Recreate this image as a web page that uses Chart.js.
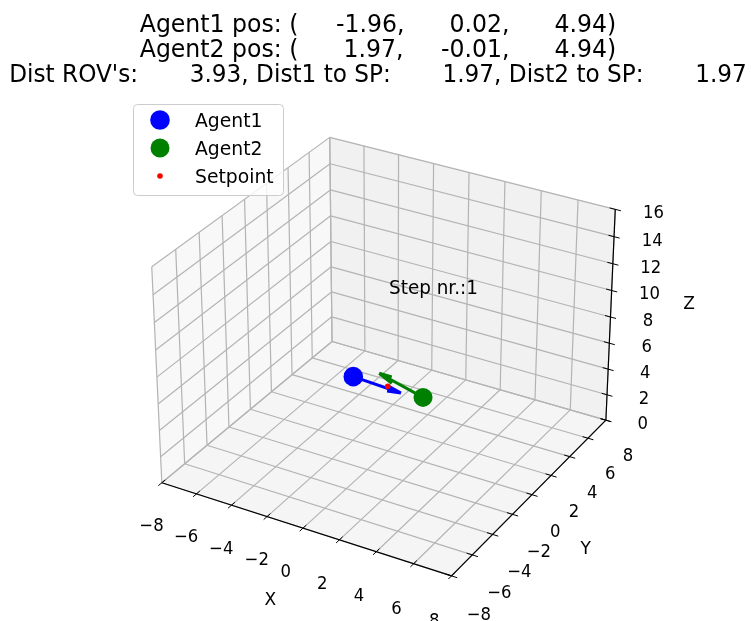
<!DOCTYPE html>
<html>
<head>
<meta charset="utf-8">
<title>Agents step view</title>
<script src="https://cdn.jsdelivr.net/npm/chart.js@4.4.1/dist/chart.umd.min.js"></script>
<style>
  body { margin: 0; background: #fff; }
  canvas { display: block; }
</style>
</head>
<body>
<canvas id="myChart" width="751" height="621"></canvas>
<script>
// state of the two agents at this step
const agent1Pos = [-1.96, 0.02, 4.94];
const agent2Pos = [1.97, -0.01, 4.94];
const setpoint = [0, 0, 5];
const agent1Vel = [2.8, -0.2, 0];
const agent2Vel = [-3.0, 0.95, 0];
const distances = [3.93, 1.97, 1.97]; // between ROVs, agent1 to SP, agent2 to SP
const stepNr = 1;

// axes
const xTicks = [-8, -6, -4, -2, 0, 2, 4, 6, 8];
const yTicks = [-8, -6, -4, -2, 0, 2, 4, 6, 8];
const zTicks = [0, 2, 4, 6, 8, 10, 12, 14, 16];
const xLim = [-8, 8];
const yLim = [-8, 8];
const zLim = [0, 16];

// view like mplot3d defaults: elev 30, azim -60, box 4:4:3, eye at distance 10
const ELEV = 30 * Math.PI / 180;
const AZIM = -60 * Math.PI / 180;
const EYE_DIST = 10;
const box = [4 / 3.5, 4 / 3.5, 3 / 3.5];
const TEXT_STRETCH = 1.08;

const dot = (a, b) => a[0] * b[0] + a[1] * b[1] + a[2] * b[2];
const wv = [Math.cos(ELEV) * Math.cos(AZIM), Math.cos(ELEV) * Math.sin(AZIM), Math.sin(ELEV)];
const uLen = Math.hypot(wv[0], wv[1]);
const uv = [-wv[1] / uLen, wv[0] / uLen, 0];
const vv = [wv[1] * uv[2] - wv[2] * uv[1], wv[2] * uv[0] - wv[0] * uv[2], wv[0] * uv[1] - wv[1] * uv[0]];

function toWorld(p) {
  return [
    (p[0] - xLim[0]) / (xLim[1] - xLim[0]) * box[0] - box[0] / 2,
    (p[1] - yLim[0]) / (yLim[1] - yLim[0]) * box[1] - box[1] / 2,
    (p[2] - zLim[0]) / (zLim[1] - zLim[0]) * box[2] - box[2] / 2
  ];
}

function project(p) {
  if (p === null) return {x: null, y: null};
  const c = toWorld(p);
  const depth = EYE_DIST - dot(wv, c);
  return {x: dot(uv, c) / depth, y: dot(vv, c) / depth};
}

// quiver arrow: shaft plus two head lines tilted 15 deg in the vertical plane
function quiver(tail, vec) {
  const tip = [tail[0] + vec[0], tail[1] + vec[1], tail[2] + vec[2]];
  const n = Math.hypot(vec[0], vec[1]);
  const xp = vec[1] / n, yp = -vec[0] / n;
  const c = Math.cos(15 * Math.PI / 180), s = Math.sin(15 * Math.PI / 180);
  const r00 = c + xp * xp * (1 - c), r01 = xp * yp * (1 - c), r11 = c + yp * yp * (1 - c);
  const rpos = [[r00, r01, yp * s], [r01, r11, -xp * s], [-yp * s, xp * s, c]];
  const rneg = [[r00, r01, -yp * s], [r01, r11, xp * s], [yp * s, -xp * s, c]];
  const head = m => [0, 1, 2].map(i => tip[i] - 0.3 * dot(m[i], vec));
  return [tail, tip, null, tip, head(rpos), null, tip, head(rneg)].map(project);
}

function drawText(ctx, str, x, cy, size, align) {
  ctx.save();
  ctx.font = size + 'px "DejaVu Sans"';
  ctx.textAlign = align;
  ctx.textBaseline = 'alphabetic';
  ctx.fillStyle = '#000';
  ctx.translate(x, cy + 0.3645 * size * TEXT_STRETCH);
  ctx.scale(1, TEXT_STRETCH);
  ctx.fillText(str, 0, 0);
  ctx.restore();
}

const fmt = v => v.toFixed(2).padStart(10);
const tickText = v => String(v).replace('-', '\u2212');

// panes, grid, axis lines, ticks and labels of the 3D box
const axes3d = {
  id: 'axes3d',
  beforeDatasetsDraw(chart) {
    const ctx = chart.ctx;
    const xs = chart.scales.x, ys = chart.scales.y;
    const P = p => { const q = project(p); return [xs.getPixelForValue(q.x), ys.getPixelForValue(q.y)]; };
    const [x0, x1] = xLim, [y0, y1] = yLim, [z0, z1] = zLim;

    const panes = [
      {pts: [[x0, y0, z0], [x0, y1, z0], [x0, y1, z1], [x0, y0, z1]], color: 'rgba(242,242,242,0.5)'},
      {pts: [[x0, y1, z0], [x1, y1, z0], [x1, y1, z1], [x0, y1, z1]], color: 'rgba(228,228,228,0.5)'},
      {pts: [[x0, y0, z0], [x1, y0, z0], [x1, y1, z0], [x0, y1, z0]], color: 'rgba(235,235,235,0.5)'}
    ];
    panes.forEach(pane => {
      ctx.beginPath();
      pane.pts.map(P).forEach((q, i) => i ? ctx.lineTo(q[0], q[1]) : ctx.moveTo(q[0], q[1]));
      ctx.closePath();
      ctx.fillStyle = pane.color;
      ctx.fill();
      ctx.strokeStyle = pane.color;
      ctx.lineWidth = 1;
      ctx.stroke();
    });

    const seg = (a, b, color, width) => {
      const pa = P(a), pb = P(b);
      ctx.beginPath();
      ctx.moveTo(pa[0], pa[1]);
      ctx.lineTo(pb[0], pb[1]);
      ctx.strokeStyle = color;
      ctx.lineWidth = width;
      ctx.stroke();
    };

    const grid = '#b4b4b4';
    const gw = 1.2;
    xTicks.forEach(t => { seg([t, y0, z0], [t, y1, z0], grid, gw); seg([t, y1, z0], [t, y1, z1], grid, gw); });
    yTicks.forEach(t => { seg([x0, t, z0], [x1, t, z0], grid, gw); seg([x0, t, z0], [x0, t, z1], grid, gw); });
    zTicks.forEach(t => { seg([x0, y1, t], [x1, y1, t], grid, gw); seg([x0, y0, t], [x0, y1, t], grid, gw); });

    // axis lines
    seg([x0, y0, z0], [x1, y0, z0], '#000', 1.2);
    seg([x1, y0, z0], [x1, y1, z0], '#000', 1.2);
    seg([x1, y1, z0], [x1, y1, z1], '#000', 1.2);

    const tk = 0.3;
    xTicks.forEach(t => seg([t, y0 - tk, z0], [t, y0 + tk, z0], '#000', 1));
    yTicks.forEach(t => seg([x1 + tk, t, z0], [x1 - tk, t, z0], '#000', 1));
    zTicks.forEach(t => seg([x1 + tk, y1, t], [x1 - tk, y1, t], '#000', 1));

    // tick labels; negative numbers sit a little to the right of the centred spot
    const label = (p, str, size, dx = 0) => { const q = P(p); drawText(ctx, str, q[0] + dx, q[1], size, 'center'); };
    const tickSize = 16.5;
    xTicks.forEach(t => label([t, y0 - 1.6, z0 - 2.0], tickText(t), tickSize, t < 0 ? 7 : 0));
    yTicks.forEach(t => label([x1 + 1.3, t, z0 - 2.2], tickText(t), tickSize, t < 0 ? 3 : 0));
    zTicks.forEach(t => label([x1 + 1.7, y1 + 0.7, t], tickText(t), tickSize));

    label([(x0 + x1) / 2, y0 - 3.0, z0 - 3.0], 'X', 17);
    label([x1 + 2.96, (y0 + y1) / 2, z0 - 2.8], 'Y', 17);
    label([x1 + 2.7, y1 + 3.3, (z0 + z1) / 2], 'Z', 17);
  },
  afterDatasetsDraw(chart) {
    const ctx = chart.ctx;

    drawText(ctx, 'Step nr.:' + stepNr, 389, 286.5, 18.4, 'left');

    // title
    const lines = [
      'Agent1 pos: (' + fmt(agent1Pos[0]) + ',' + fmt(agent1Pos[1]) + ',' + fmt(agent1Pos[2]) + ')',
      'Agent2 pos: (' + fmt(agent2Pos[0]) + ',' + fmt(agent2Pos[1]) + ',' + fmt(agent2Pos[2]) + ')',
      "Dist ROV's: " + fmt(distances[0]) + ', Dist1 to SP: ' + fmt(distances[1]) + ', Dist2 to SP: ' + fmt(distances[2])
    ];
    const lineY = [22.5, 47.8, 72.5];
    const lineSize = [23.6, 23.6, 23.2];
    lines.forEach((s, i) => drawText(ctx, s, 378, lineY[i], lineSize[i], 'center'));

    // legend
    const lx = 133, ly = 104, lw = 150, lh = 91;
    ctx.save();
    ctx.beginPath();
    ctx.roundRect(lx + 0.5, ly + 0.5, lw, lh, 4);
    ctx.fillStyle = 'rgba(255,255,255,0.8)';
    ctx.fill();
    ctx.strokeStyle = '#cccccc';
    ctx.lineWidth = 1;
    ctx.stroke();
    ctx.restore();
    chart.data.datasets.filter(d => d.legendText).forEach((d, i) => {
      const y = ly + 16 + i * 28;
      ctx.beginPath();
      ctx.arc(lx + 27, y, d.pointRadius, 0, 2 * Math.PI);
      ctx.fillStyle = d.backgroundColor;
      ctx.fill();
      drawText(ctx, d.legendText, lx + 62, y, 18.8, 'left');
    });
  }
};

new Chart(document.getElementById('myChart'), {
  type: 'scatter',
  data: {
    datasets: [
      {
        legendText: 'Agent1',
        data: [project(agent1Pos)],
        backgroundColor: '#0000ff',
        pointRadius: 9.8,
        borderWidth: 0,
        order: 0
      },
      {
        legendText: 'Agent2',
        data: [project(agent2Pos)],
        backgroundColor: '#008000',
        pointRadius: 9.5,
        borderWidth: 0,
        order: 0
      },
      {
        legendText: 'Setpoint',
        data: [project(setpoint)],
        backgroundColor: '#ff0000',
        pointRadius: 2.8,
        borderWidth: 0,
        order: 1
      },
      {
        data: quiver(agent1Pos, agent1Vel),
        showLine: true,
        spanGaps: false,
        borderColor: '#0000ff',
        borderWidth: 3,
        pointRadius: 0,
        order: 2
      },
      {
        data: quiver(agent2Pos, agent2Vel),
        showLine: true,
        spanGaps: false,
        borderColor: '#008000',
        borderWidth: 3,
        pointRadius: 0,
        order: 2
      }
    ]
  },
  options: {
    responsive: false,
    animation: false,
    events: [],
    layout: { padding: 0, autoPadding: false },
    scales: {
      x: { type: 'linear', display: false, min: -0.13352, max: 0.12505 },
      y: { type: 'linear', display: false, min: -0.09553, max: 0.12059 }
    },
    plugins: {
      legend: { display: false },
      tooltip: { enabled: false }
    }
  },
  plugins: [axes3d]
});
</script>
</body>
</html>
